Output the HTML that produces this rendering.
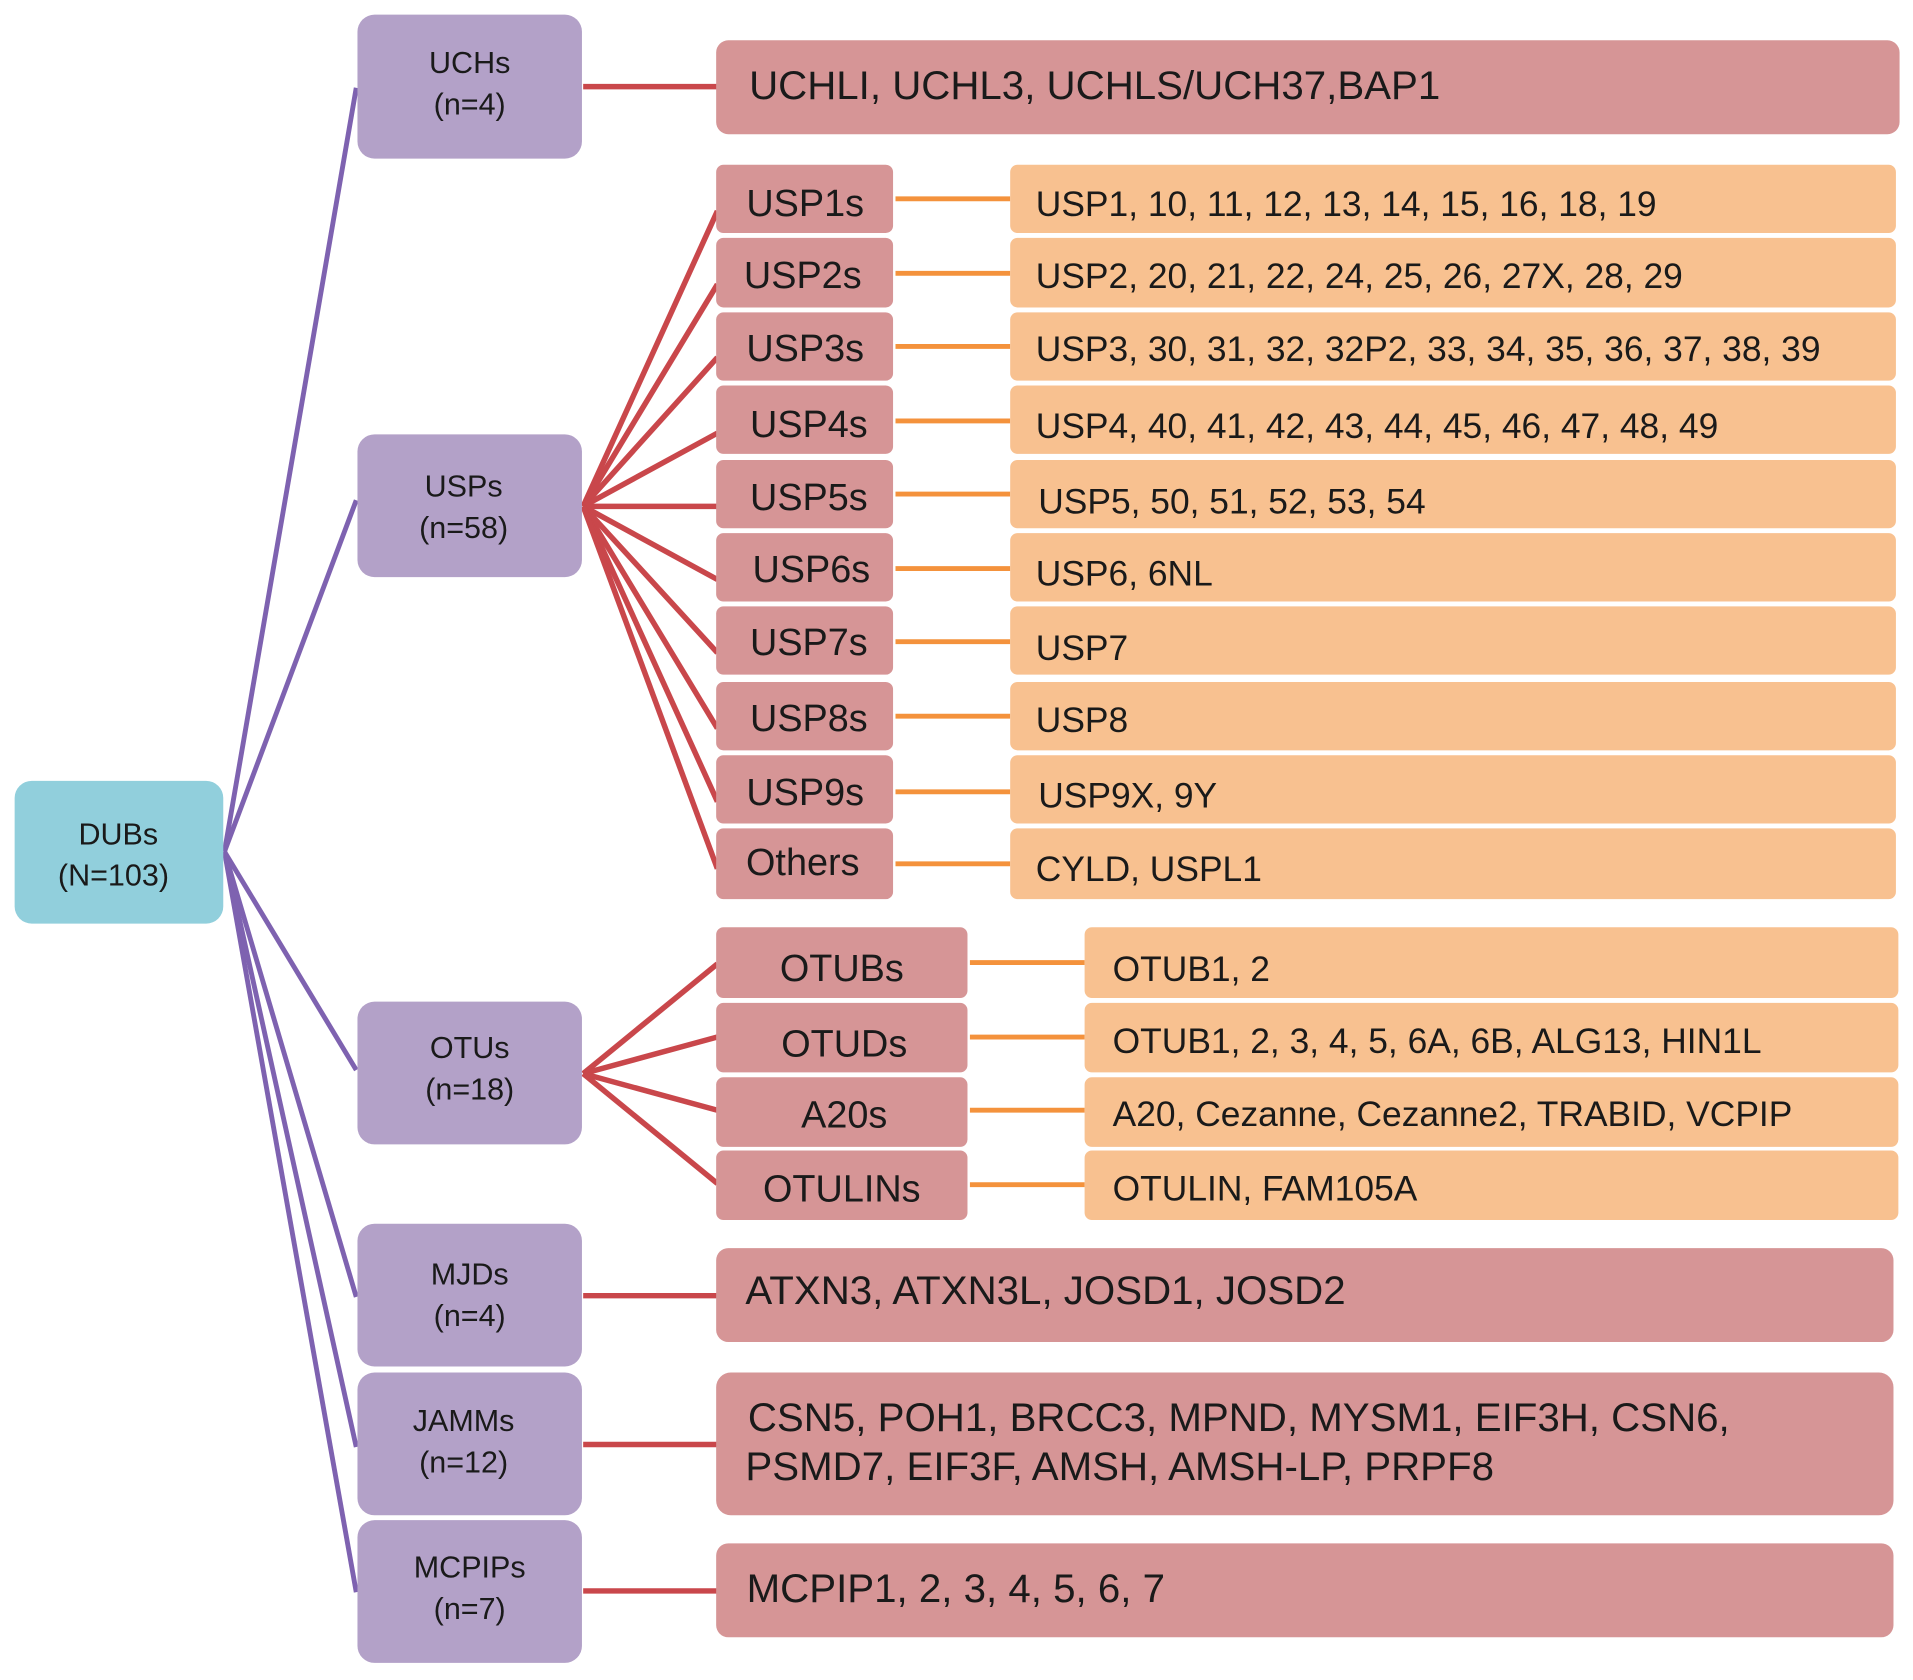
<!DOCTYPE html>
<html><head><meta charset="utf-8"><style>html,body{margin:0;padding:0;background:#fff}svg{display:block}</style></head>
<body>
<svg width="1913" height="1680" viewBox="0 0 1568 1377" preserveAspectRatio="none" xmlns="http://www.w3.org/2000/svg" font-family="Liberation Sans, sans-serif">
<g stroke="#7e62b0" stroke-width="4" fill="none">
<line x1="184" y1="698" x2="292" y2="72"/>
<line x1="184" y1="698" x2="292" y2="410"/>
<line x1="184" y1="698" x2="292" y2="877"/>
<line x1="184" y1="698" x2="292" y2="1063"/>
<line x1="184" y1="698" x2="292" y2="1186"/>
<line x1="184" y1="698" x2="292" y2="1305"/>
</g>
<g stroke="#c9474b" stroke-width="4.5" fill="none">
<line x1="478" y1="71" x2="588" y2="71"/>
<line x1="478" y1="1062" x2="588" y2="1062"/>
<line x1="478" y1="1184" x2="588" y2="1184"/>
<line x1="478" y1="1304" x2="588" y2="1304"/>
<line x1="478" y1="415" x2="588" y2="173"/>
<line x1="478" y1="415" x2="588" y2="233"/>
<line x1="478" y1="415" x2="588" y2="293"/>
<line x1="478" y1="415" x2="588" y2="355"/>
<line x1="478" y1="415" x2="588" y2="415"/>
<line x1="478" y1="415" x2="588" y2="475"/>
<line x1="478" y1="415" x2="588" y2="535"/>
<line x1="478" y1="415" x2="588" y2="597"/>
<line x1="478" y1="415" x2="588" y2="657"/>
<line x1="478" y1="415" x2="588" y2="712"/>
<line x1="478" y1="880" x2="588" y2="790"/>
<line x1="478" y1="880" x2="588" y2="850"/>
<line x1="478" y1="880" x2="588" y2="910"/>
<line x1="478" y1="880" x2="588" y2="970"/>
</g>
<g stroke="#f4923c" stroke-width="4" fill="none">
<line x1="734" y1="163" x2="828" y2="163"/>
<line x1="734" y1="224" x2="828" y2="224"/>
<line x1="734" y1="284" x2="828" y2="284"/>
<line x1="734" y1="345" x2="828" y2="345"/>
<line x1="734" y1="405" x2="828" y2="405"/>
<line x1="734" y1="466" x2="828" y2="466"/>
<line x1="734" y1="526" x2="828" y2="526"/>
<line x1="734" y1="587" x2="828" y2="587"/>
<line x1="734" y1="649" x2="828" y2="649"/>
<line x1="734" y1="708" x2="828" y2="708"/>
<line x1="795" y1="789" x2="889" y2="789"/>
<line x1="795" y1="850" x2="889" y2="850"/>
<line x1="795" y1="910" x2="889" y2="910"/>
<line x1="795" y1="971" x2="889" y2="971"/>
</g>
<rect x="12" y="640" width="171" height="117" rx="14" fill="#91cfdc"/>
<g fill="#b3a1c8">
<rect x="293" y="12" width="184" height="118" rx="14"/>
<rect x="293" y="356" width="184" height="117" rx="14"/>
<rect x="293" y="821" width="184" height="117" rx="14"/>
<rect x="293" y="1003" width="184" height="117" rx="14"/>
<rect x="293" y="1125" width="184" height="117" rx="14"/>
<rect x="293" y="1246" width="184" height="117" rx="14"/>
</g>
<g fill="#d69596">
<rect x="587" y="33" width="970" height="77" rx="10"/>
<rect x="587" y="1023" width="965" height="77" rx="10"/>
<rect x="587" y="1125" width="965" height="117" rx="12"/>
<rect x="587" y="1265" width="965" height="77" rx="10"/>
<rect x="587" y="135" width="145" height="56" rx="6"/>
<rect x="587" y="195" width="145" height="57" rx="6"/>
<rect x="587" y="256" width="145" height="56" rx="6"/>
<rect x="587" y="316" width="145" height="56" rx="6"/>
<rect x="587" y="377" width="145" height="56" rx="6"/>
<rect x="587" y="437" width="145" height="56" rx="6"/>
<rect x="587" y="497" width="145" height="56" rx="6"/>
<rect x="587" y="559" width="145" height="56" rx="6"/>
<rect x="587" y="619" width="145" height="56" rx="6"/>
<rect x="587" y="679" width="145" height="58" rx="6"/>
<rect x="587" y="760" width="206" height="58" rx="6"/>
<rect x="587" y="822" width="206" height="57" rx="6"/>
<rect x="587" y="883" width="206" height="57" rx="6"/>
<rect x="587" y="943" width="206" height="57" rx="6"/>
</g>
<g fill="#f8c190">
<rect x="828" y="135" width="726" height="56" rx="6"/>
<rect x="828" y="195" width="726" height="57" rx="6"/>
<rect x="828" y="256" width="726" height="56" rx="6"/>
<rect x="828" y="316" width="726" height="56" rx="6"/>
<rect x="828" y="377" width="726" height="56" rx="6"/>
<rect x="828" y="437" width="726" height="56" rx="6"/>
<rect x="828" y="497" width="726" height="56" rx="6"/>
<rect x="828" y="559" width="726" height="56" rx="6"/>
<rect x="828" y="619" width="726" height="56" rx="6"/>
<rect x="828" y="679" width="726" height="58" rx="6"/>
<rect x="889" y="760" width="667" height="58" rx="6"/>
<rect x="889" y="822" width="667" height="57" rx="6"/>
<rect x="889" y="883" width="667" height="57" rx="6"/>
<rect x="889" y="943" width="667" height="57" rx="6"/>
</g>
<g fill="#1a1a1a" font-size="25" text-anchor="middle">
<text x="97" y="692">DUBs</text><text x="93" y="726">(N=103)</text>
<text x="385" y="60">UCHs</text><text x="385" y="94">(n=4)</text>
<text x="380" y="407">USPs</text><text x="380" y="441">(n=58)</text>
<text x="385" y="867">OTUs</text><text x="385" y="901">(n=18)</text>
<text x="385" y="1053">MJDs</text><text x="385" y="1087">(n=4)</text>
<text x="380" y="1173">JAMMs</text><text x="380" y="1207">(n=12)</text>
<text x="385" y="1293">MCPIPs</text><text x="385" y="1327">(n=7)</text>
</g>
<g fill="#1a1a1a" font-size="31" text-anchor="middle">
<text x="660" y="177">USP1s</text>
<text x="658" y="236">USP2s</text>
<text x="660" y="296">USP3s</text>
<text x="663" y="358">USP4s</text>
<text x="663" y="418">USP5s</text>
<text x="665" y="477">USP6s</text>
<text x="663" y="537">USP7s</text>
<text x="663" y="599">USP8s</text>
<text x="660" y="660">USP9s</text>
<text x="658" y="717">Others</text>
<text x="690" y="804">OTUBs</text>
<text x="692" y="866">OTUDs</text>
<text x="692" y="924">A20s</text>
<text x="690" y="985">OTULINs</text>
</g>
<g fill="#1a1a1a" font-size="33">
<text x="614" y="81">UCHLI, UCHL3, UCHLS/UCH37,BAP1</text>
<text x="611" y="1069">ATXN3, ATXN3L, JOSD1, JOSD2</text>
<text x="613" y="1173">CSN5, POH1, BRCC3, MPND, MYSM1, EIF3H, CSN6,</text>
<text x="611" y="1213">PSMD7, EIF3F, AMSH, AMSH-LP, PRPF8</text>
<text x="612" y="1313">MCPIP1, 2, 3, 4, 5, 6, 7</text>
</g>
<g fill="#1a1a1a" font-size="29">
<text x="849" y="177">USP1, 10, 11, 12, 13, 14, 15, 16, 18, 19</text>
<text x="849" y="236">USP2, 20, 21, 22, 24, 25, 26, 27X, 28, 29</text>
<text x="849" y="296">USP3, 30, 31, 32, 32P2, 33, 34, 35, 36, 37, 38, 39</text>
<text x="849" y="359">USP4, 40, 41, 42, 43, 44, 45, 46, 47, 48, 49</text>
<text x="851" y="421">USP5, 50, 51, 52, 53, 54</text>
<text x="849" y="480">USP6, 6NL</text>
<text x="849" y="541">USP7</text>
<text x="849" y="600">USP8</text>
<text x="851" y="662">USP9X, 9Y</text>
<text x="849" y="722">CYLD, USPL1</text>
<text x="912" y="804">OTUB1, 2</text>
<text x="912" y="863">OTUB1, 2, 3, 4, 5, 6A, 6B, ALG13, HIN1L</text>
<text x="912" y="923">A20, Cezanne, Cezanne2, TRABID, VCPIP</text>
<text x="912" y="984">OTULIN, FAM105A</text>
</g>
</svg>
</body></html>
